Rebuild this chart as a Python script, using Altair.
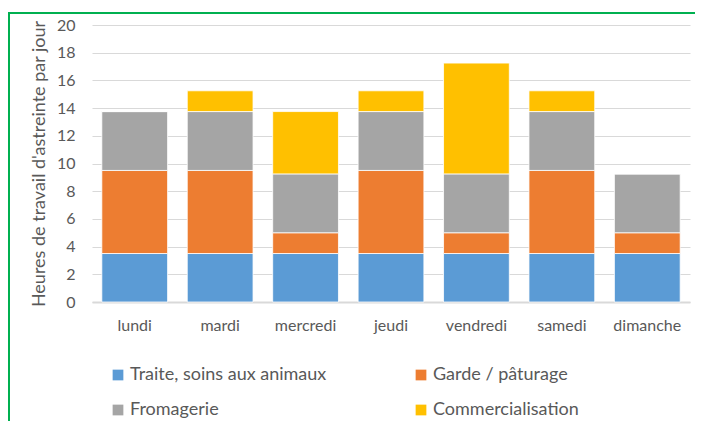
import altair as alt
import pandas as pd

days = ["lundi", "mardi", "mercredi", "jeudi", "vendredi", "samedi", "dimanche"]
series = ["Traite, soins aux animaux", "Garde / pâturage", "Fromagerie", "Commercialisation"]
traite = [3.5, 3.5, 3.5, 3.5, 3.5, 3.5, 3.5]
garde = [6, 6, 1.5, 6, 1.5, 6, 1.5]
fromagerie = [4.25, 4.25, 4.25, 4.25, 4.25, 4.25, 4.25]
commercialisation = [0, 1.5, 4.5, 1.5, 8, 1.5, 0]
colors = ["#5B9BD5", "#ED7D31", "#A5A5A5", "#FFC000"]

rows = []
for si, (name, vals) in enumerate(zip(series, [traite, garde, fromagerie, commercialisation])):
    for d, v in zip(days, vals):
        rows.append({"jour": d, "activite": name, "heures": v, "ordre": si})
df = pd.DataFrame(rows)

FONT = "Lato"
GREY = "#595959"

bars = alt.Chart(df).mark_bar(stroke="white", strokeWidth=0.8).encode(
    x=alt.X("jour:N", sort=days, title=None,
            scale=alt.Scale(paddingInner=0.23, paddingOuter=0.115),
            axis=alt.Axis(labelAngle=0, labelFontSize=16, labelColor=GREY, labelFont=FONT,
                          labelPadding=15, ticks=False, domainColor="#D9D9D9", domainWidth=2,
                          grid=False)),
    y=alt.Y("heures:Q", stack="zero", title="Heures de travail d'astreinte par jour",
            scale=alt.Scale(domain=[0, 20]),
            axis=alt.Axis(values=list(range(0, 21, 2)), labelFontSize=16, labelColor=GREY,
                          labelFont=FONT, labelPadding=17, ticks=False, domain=False,
                          gridColor="#D9D9D9", gridWidth=1,
                          titleFontSize=18, titleFont=FONT, titleColor=GREY,
                          titleFontWeight="normal", titlePadding=8)),
    color=alt.Color("activite:N", sort=series,
                    scale=alt.Scale(domain=series, range=colors),
                    legend=alt.Legend(title=None, orient="none", legendX=17, legendY=341,
                                      direction="horizontal",
                                      columns=2, columnPadding=85, rowPadding=17,
                                      symbolType="square", symbolSize=115, symbolStrokeWidth=0,
                                      labelFontSize=18, labelFont=FONT, labelColor=GREY,
                                      labelOffset=3, labelLimit=400)),
    order=alt.Order("ordre:Q", sort="ascending"),
)

border = alt.Chart(pd.DataFrame({"a": [0]})).mark_rect(
    fill=None, stroke="#00B050", strokeWidth=2, clip=False
).encode(
    x=alt.value(-83), x2=alt.value(613), y=alt.value(-12), y2=alt.value(405)
)

chart = alt.layer(border, bars).properties(
    width=598, height=277,
    autosize=alt.AutoSizeParams(type="none"),
    padding={"left": 84, "top": 17, "right": 5, "bottom": 119},
).configure_view(stroke=None)

chart.save("out.html", embed_options={"renderer": "svg", "actions": False})
